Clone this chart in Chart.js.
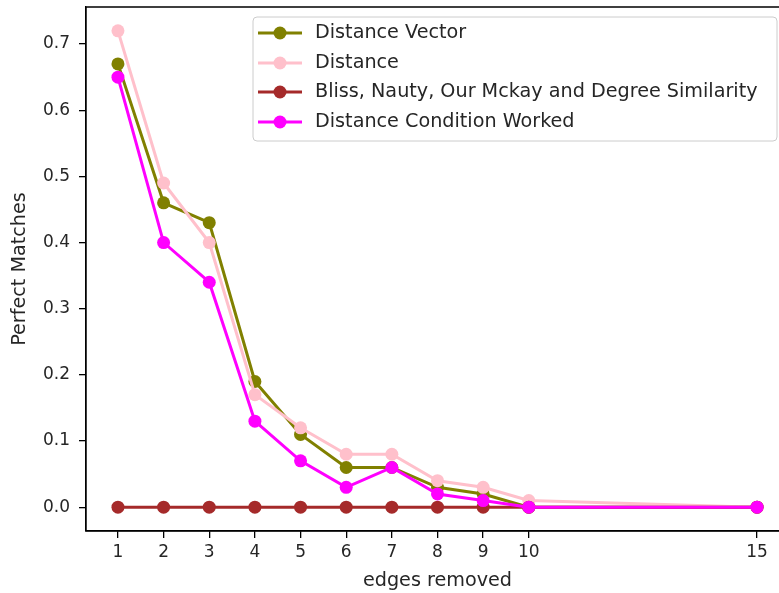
<!DOCTYPE html>
<html>
<head>
<meta charset="utf-8">
<script src="https://cdn.jsdelivr.net/npm/chart.js@4.4.1/dist/chart.umd.min.js"></script>
<style>
html,body{margin:0;padding:0;background:#fff;overflow:hidden;width:779px;height:593px;}
#wrap{position:absolute;left:0;top:0;width:800px;height:593px;}
</style>
</head>
<body>
<div id="wrap"><canvas id="c" width="800" height="593"></canvas></div>
<script>
const edgesRemoved = [1, 2, 3, 4, 5, 6, 7, 8, 9, 10, 15];
const distanceVector = [0.67, 0.46, 0.43, 0.19, 0.11, 0.06, 0.06, 0.03, 0.02, 0.0, 0.0];
const distance = [0.72, 0.49, 0.40, 0.17, 0.12, 0.08, 0.08, 0.04, 0.03, 0.01, 0.0];
const blissNauty = [0, 0, 0, 0, 0, 0, 0, 0, 0, 0, 0];
const distanceCondition = [0.65, 0.40, 0.34, 0.13, 0.07, 0.03, 0.06, 0.02, 0.01, 0.0, 0.0];
const xTicks = [1, 2, 3, 4, 5, 6, 7, 8, 9, 10, 15];
const yTicks = [0.0, 0.1, 0.2, 0.3, 0.4, 0.5, 0.6, 0.7];
const seriesNames = ['Distance Vector', 'Distance', 'Bliss, Nauty, Our Mckay and Degree Similarity', 'Distance Condition Worked'];
const seriesColors = ['#808000', '#FFC0CB', '#A52A2A', '#FF00FF'];

const FONT = 'DejaVu Sans';
const TEXT = '#262626';
const seriesData = [distanceVector, distance, blissNauty, distanceCondition];

const datasets = seriesData.map((arr, i) => ({
  label: seriesNames[i],
  data: edgesRemoved.map((x, j) => ({x: x, y: arr[j]})),
  borderColor: seriesColors[i],
  backgroundColor: seriesColors[i],
  pointBackgroundColor: seriesColors[i],
  pointBorderColor: seriesColors[i],
  pointRadius: 6.5,
  pointHoverRadius: 6.5,
  pointBorderWidth: 0,
  borderWidth: 3,
  tension: 0,
  order: 4 - i,
  clip: false
}));

const frame = {
  id: 'frame',
  afterDatasetsDraw(chart) {
    const ctx = chart.ctx, a = chart.chartArea;
    ctx.save();
    ctx.strokeStyle = '#000';
    ctx.lineWidth = 1.3;
    ctx.beginPath();
    ctx.moveTo(a.left, a.top); ctx.lineTo(a.right, a.top);
    ctx.moveTo(a.left, a.top); ctx.lineTo(a.left, a.bottom);
    ctx.lineTo(a.right, a.bottom);
    ctx.stroke();
    // legend
    const lx = 253, ly = 17, lw = 524, lh = 124, r = 4;
    ctx.fillStyle = 'rgba(255,255,255,0.8)';
    ctx.strokeStyle = '#cccccc';
    ctx.lineWidth = 1;
    ctx.beginPath();
    ctx.moveTo(lx + r, ly);
    ctx.lineTo(lx + lw - r, ly); ctx.arcTo(lx + lw, ly, lx + lw, ly + r, r);
    ctx.lineTo(lx + lw, ly + lh - r); ctx.arcTo(lx + lw, ly + lh, lx + lw - r, ly + lh, r);
    ctx.lineTo(lx + r, ly + lh); ctx.arcTo(lx, ly + lh, lx, ly + lh - r, r);
    ctx.lineTo(lx, ly + r); ctx.arcTo(lx, ly, lx + r, ly, r);
    ctx.closePath();
    ctx.fill(); ctx.stroke();
    const rows = [33, 63, 92, 122];
    chart.data.datasets.forEach((ds, i) => {
      const y = rows[i];
      ctx.strokeStyle = ds.borderColor;
      ctx.lineWidth = 3;
      ctx.beginPath(); ctx.moveTo(258, y); ctx.lineTo(302, y); ctx.stroke();
      ctx.fillStyle = ds.borderColor;
      ctx.beginPath(); ctx.arc(280, y, 6.5, 0, Math.PI * 2); ctx.fill();
      ctx.fillStyle = TEXT;
      ctx.font = '19.2px "' + FONT + '"';
      ctx.textBaseline = 'middle';
      ctx.textAlign = 'left';
      ctx.fillText(ds.label, 315, y);
    });
    ctx.restore();
  }
};

new Chart(document.getElementById('c'), {
  type: 'line',
  data: {datasets: datasets},
  options: {
    responsive: false,
    animation: false,
    events: [],
    layout: {padding: {left: 0, top: 7, right: 11, bottom: 0}},
    plugins: {legend: {display: false}, tooltip: {enabled: false}},
    scales: {
      x: {
        type: 'linear',
        min: 0.3, max: 15.7,
        afterBuildTicks(s) { s.ticks = xTicks.map(v => ({value: v})); },
        afterFit(s) { s.height = 62; s.paddingLeft = 0; s.paddingRight = 0; },
        grid: {display: true, drawOnChartArea: false, drawTicks: true, tickLength: 7, color: '#000', lineWidth: 1.3},
        border: {display: true, color: '#000', width: 1.3},
        ticks: {color: TEXT, font: {family: FONT, size: 17}, padding: 4, maxRotation: 0, autoSkip: false,
                callback: v => String(v)},
        title: {display: true, text: 'edges removed', color: TEXT, font: {family: FONT, size: 19.2}, padding: {top: 1, bottom: 0}}
      },
      y: {
        type: 'linear',
        min: -0.036, max: 0.756,
        afterBuildTicks(s) { s.ticks = yTicks.map(v => ({value: v})); },
        afterFit(s) { s.width = 86; s.paddingTop = 0; s.paddingBottom = 0; },
        grid: {display: true, drawOnChartArea: false, drawTicks: true, tickLength: 7, color: '#000', lineWidth: 1.3},
        border: {display: true, color: '#000', width: 1.3},
        ticks: {color: TEXT, font: {family: FONT, size: 17}, padding: 9, callback: v => v.toFixed(1)},
        title: {display: true, text: 'Perfect Matches', color: TEXT, font: {family: FONT, size: 19.2}, padding: {top: 8, bottom: 0}}
      }
    }
  },
  plugins: [frame]
});
</script>
</body>
</html>
